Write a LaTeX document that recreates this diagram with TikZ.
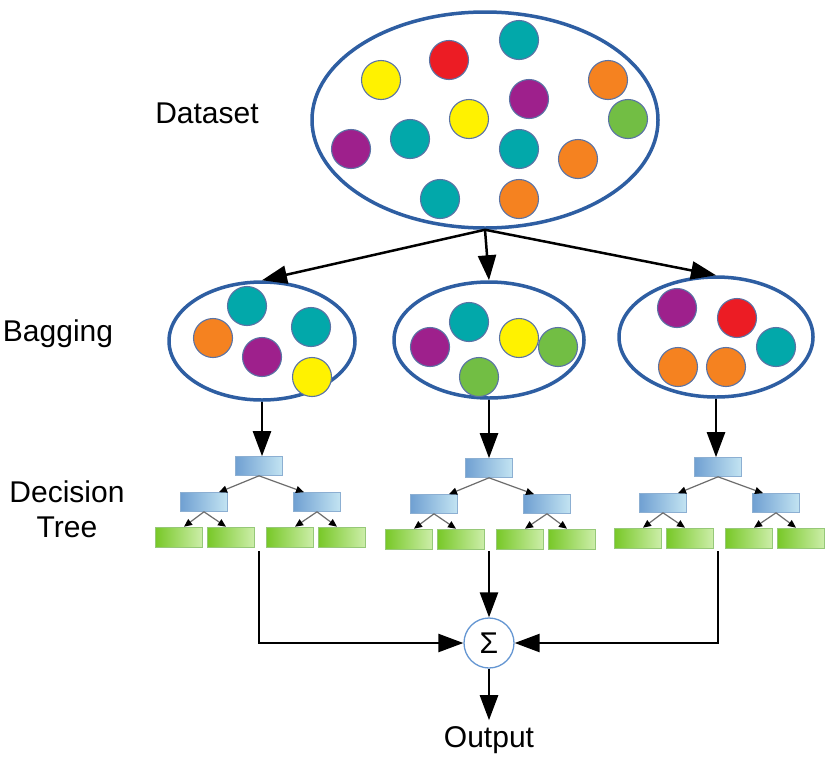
\documentclass[tikz,border=0pt]{standalone}
\usepackage{fontspec}
\setmainfont{Liberation Sans}
\usetikzlibrary{shapes.geometric,arrows.meta}
\definecolor{cteal}{RGB}{2,168,170}
\definecolor{cred}{RGB}{236,28,36}
\definecolor{cyel}{RGB}{255,242,0}
\definecolor{cpur}{RGB}{158,32,140}
\definecolor{cora}{RGB}{245,130,32}
\definecolor{cgre}{RGB}{114,190,68}
\definecolor{cedge}{RGB}{90,115,165}
\definecolor{eblue}{RGB}{46,94,162}
\definecolor{bdark}{RGB}{112,160,210}
\definecolor{blight}{RGB}{195,228,242}
\definecolor{bedge}{RGB}{140,175,210}
\definecolor{gdark}{RGB}{120,200,40}
\definecolor{glight}{RGB}{205,238,170}
\definecolor{gedge}{RGB}{150,200,120}
\definecolor{sedge}{RGB}{100,150,210}
\tikzset{
  ball/.style={circle,draw=cedge,line width=1.1pt,minimum size=39pt,inner sep=0pt,fill=#1},
  bag/.style={ellipse,draw=eblue,line width=3.5pt,inner sep=0pt},
  lbl/.style={font=\fontsize{30}{35}\selectfont,align=center,inner sep=0pt},
  conn/.style={line width=2.5pt,-{Triangle[length=25pt,width=18pt]}},
  tconn/.style={draw=gray!85!black,line width=1.2pt,-{Triangle[length=8pt,width=7pt,color=black]}},
  tbox/.style={rectangle,draw=bedge,line width=0.6pt,minimum width=47pt,minimum height=19pt,inner sep=0pt,left color=bdark,right color=blight},
  leaf/.style={rectangle,draw=gedge,line width=0.6pt,minimum width=47pt,minimum height=20pt,inner sep=0pt,left color=gdark,right color=glight},
}
\newcommand\mytree[3]{%
  \node[tbox] (#1r) at (#2,#3) {};
  \node[tbox] (#1a) at (#2-55,#3+36) {};
  \node[tbox] (#1b) at (#2+58,#3+36) {};
  \node[leaf] (#1aa) at (#2-80,#3+71) {};
  \node[leaf] (#1ab) at (#2-28,#3+71) {};
  \node[leaf] (#1ba) at (#2+31,#3+71) {};
  \node[leaf] (#1bb) at (#2+83,#3+71) {};
  \draw[tconn] (#1r.south) -- ([xshift=15pt]#1a.north);
  \draw[tconn] (#1r.south) -- ([xshift=-13pt]#1b.north);
  \draw[tconn] (#1a.south) -- ([xshift=5pt]#1aa.north);
  \draw[tconn] (#1a.south) -- ([xshift=-5pt]#1ab.north);
  \draw[tconn] (#1b.south) -- ([xshift=5pt]#1ba.north);
  \draw[tconn] (#1b.south) -- ([xshift=-5pt]#1bb.north);
}
\begin{document}
\begin{tikzpicture}[x=1pt,y=-1pt]
\useasboundingbox[fill=white] (0,0) rectangle (826,758);
% labels
\node[lbl] (tds) at (207,113) {Dataset};
\node[lbl] (tbg) at (58,334) {Bagging};
\node[lbl] (tdt) at (67,509) {Decision\\Tree};
% dataset
\node[bag,minimum width=346pt,minimum height=216pt] (big) at (485,120) {};
\node[ball=cyel] (d1) at (381,80) {};
\node[ball=cred] (d2) at (449,60) {};
\node[ball=cteal] (d3) at (519,40) {};
\node[ball=cora] (d4) at (608,80) {};
\node[ball=cpur] (d5) at (529,99) {};
\node[ball=cgre] (d6) at (628,119) {};
\node[ball=cyel] (d7) at (469,119) {};
\node[ball=cpur] (d8) at (351,149) {};
\node[ball=cteal] (d9) at (410,139) {};
\node[ball=cteal] (d10) at (519,149) {};
\node[ball=cora] (d11) at (578,159) {};
\node[ball=cteal] (d12) at (440,199) {};
\node[ball=cora] (d13) at (519,199) {};
% bags
\node[bag,minimum width=186pt,minimum height=118pt] (bagL) at (262,341) {};
\node[bag,minimum width=190pt,minimum height=116pt] (bagM) at (489,340) {};
\node[bag,minimum width=194pt,minimum height=120pt] (bagR) at (716,337) {};
\node[ball=cteal] (l1) at (247,306) {};
\node[ball=cora] (l2) at (213,338) {};
\node[ball=cteal] (l3) at (311,327) {};
\node[ball=cpur] (l4) at (262,357) {};
\node[ball=cyel] (l5) at (312,377) {};
\node[ball=cteal] (m1) at (469,322) {};
\node[ball=cpur] (m2) at (430,347) {};
\node[ball=cyel] (m3) at (519,338) {};
\node[ball=cgre] (m4) at (558,347) {};
\node[ball=cgre] (m5) at (479,377) {};
\node[ball=cpur] (r1) at (677,308) {};
\node[ball=cred] (r2) at (737,318) {};
\node[ball=cteal] (r3) at (776,347) {};
\node[ball=cora] (r4) at (678,367) {};
\node[ball=cora] (r5) at (726,367) {};
\draw[conn] (big.south) -- (bagL.north);
\draw[conn] (big.south) -- (bagM.north);
\draw[conn] (big.south) -- (bagR.north);
% trees
\mytree{L}{259}{466}
\mytree{M}{489}{468}
\mytree{R}{718}{467}
\draw[conn] (bagL.south) -- (bagL.south |- Lr.north);
\draw[conn] (bagM.south) -- (bagM.south |- Mr.north);
\draw[conn] (bagR.south) -- (bagR.south |- Rr.north);
% sum
\node[circle,draw=sedge,line width=1.3pt,fill=white,minimum size=50pt,inner sep=0pt,font=\fontsize{30}{30}\selectfont] (sig) at (489,643) {Σ};
\node[lbl] (out) at (489,740) {Output};
\coordinate (Lo) at (259,551);
\coordinate (Mo) at (489,551);
\coordinate (Ro) at (718,551);
\draw[conn] (Lo) |- (sig.west);
\draw[conn] (Mo) -- (sig.north);
\draw[conn] (Ro) |- (sig.east);
\draw[conn,shorten >=6pt] (sig.south) -- (out.north);
\end{tikzpicture}
\end{document}
